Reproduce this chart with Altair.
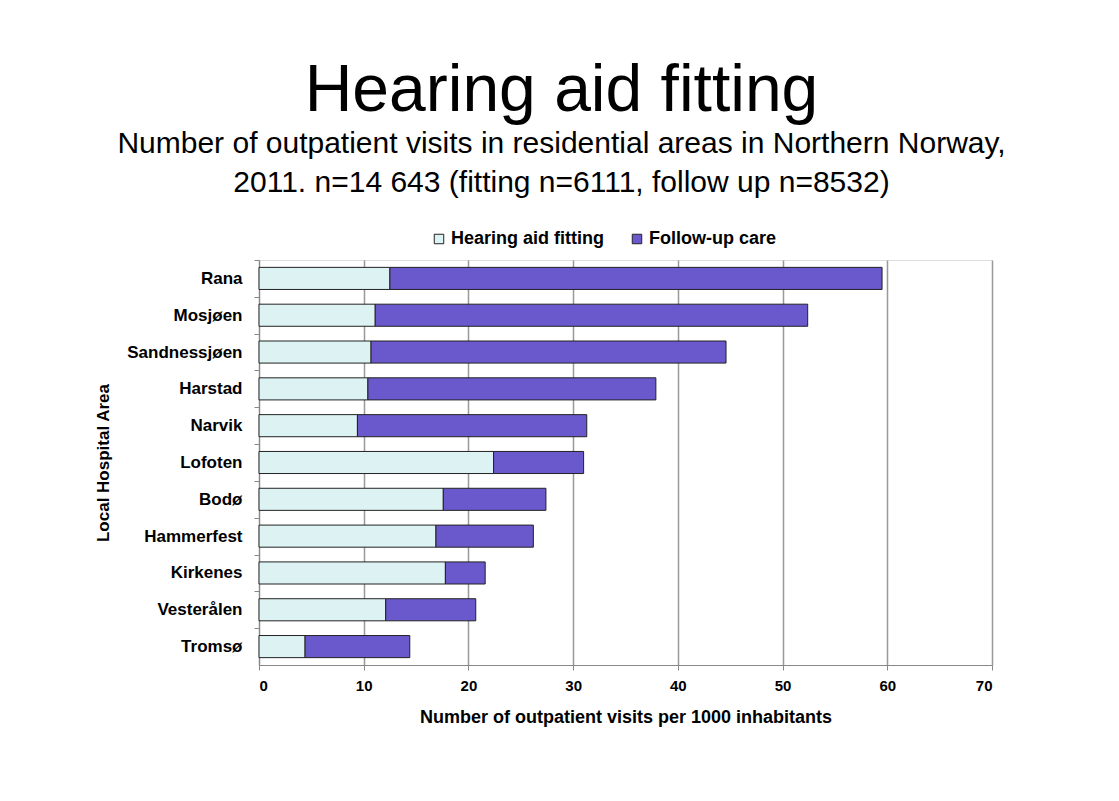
import altair as alt
import pandas as pd

areas = ["Rana", "Mosjøen", "Sandnessjøen", "Harstad", "Narvik", "Lofoten",
         "Bodø", "Hammerfest", "Kirkenes", "Vesterålen", "Tromsø"]
fitting = [12.5, 11.1, 10.7, 10.4, 9.4, 22.4, 17.6, 16.9, 17.8, 12.1, 4.4]
follow_up = [47.0, 41.3, 33.9, 27.5, 21.9, 8.6, 9.8, 9.3, 3.8, 8.6, 10.0]
series = ["Hearing aid fitting", "Follow-up care"]
colors = ["#DDF3F3", "#6A58CD"]
x_ticks = [0, 10, 20, 30, 40, 50, 60, 70]

rows = []
for a, f, u in zip(areas, fitting, follow_up):
    rows.append({"area": a, "series": series[0], "value": f, "ord": 0})
    rows.append({"area": a, "series": series[1], "value": u, "ord": 1})
df = pd.DataFrame(rows)

FONT = "Liberation Sans"

chart = alt.Chart(df).mark_bar(stroke="#222222", strokeWidth=1).encode(
    y=alt.Y("area:N", sort=areas,
            scale=alt.Scale(paddingInner=0.4, paddingOuter=0.2),
            axis=alt.Axis(title="Local Hospital Area", titleFont=FONT, titleFontSize=17,
                          titleFontWeight="bold", titleColor="black", titlePadding=14,
                          labelFont=FONT, labelFontSize=17, labelFontWeight="bold",
                          labelColor="black", labelPadding=12,
                          domainColor="#888888", tickColor="#888888", tickSize=5,
                          tickOffset=-18.4, labelOffset=18.4)),
    x=alt.X("value:Q", stack="zero",
            scale=alt.Scale(domain=[0, 70], nice=False),
            axis=alt.Axis(values=x_ticks, title="Number of outpatient visits per 1000 inhabitants",
                          titleFont=FONT, titleFontSize=18, titleFontWeight="bold",
                          titleColor="black", titlePadding=15,
                          labelFont=FONT, labelFontSize=15, labelFontWeight="bold",
                          labelColor="black", labelPadding=8,
                          grid=True, gridColor="#999999", gridWidth=1.5,
                          domainColor="#888888", tickColor="#888888", tickSize=5)),
    color=alt.Color("series:N", scale=alt.Scale(domain=series, range=colors),
                    legend=alt.Legend(title=None, orient="none", legendX=171, legendY=-30,
                                      direction="horizontal", symbolType="square",
                                      symbolSize=90, symbolStrokeColor="#222222",
                                      symbolStrokeWidth=1, labelFont=FONT,
                                      labelFontSize=18, labelFontWeight="bold",
                                      labelColor="black", labelOffset=3,
                                      columnPadding=24)),
    order=alt.Order("ord:Q"),
).properties(
    width=733,
    height=405,
    title=alt.TitleParams(
        text="Hearing aid fitting",
        subtitle=["Number of outpatient visits in residential areas in Northern Norway,",
                  "2011. n=14 643 (fitting n=6111, follow up n=8532)"],
        anchor="middle", font=FONT, fontSize=66, fontWeight="normal", color="black",
        subtitleFont=FONT, subtitleFontSize=30, subtitleColor="black",
        subtitlePadding=4, subtitleLineHeight=39, offset=31, dx=-64),
).configure_view(stroke=None).configure(
    background="white", padding={"left": 86, "top": 50, "right": 5, "bottom": 5})

chart.save("out.html", embed_options={"renderer": "svg", "actions": False})
